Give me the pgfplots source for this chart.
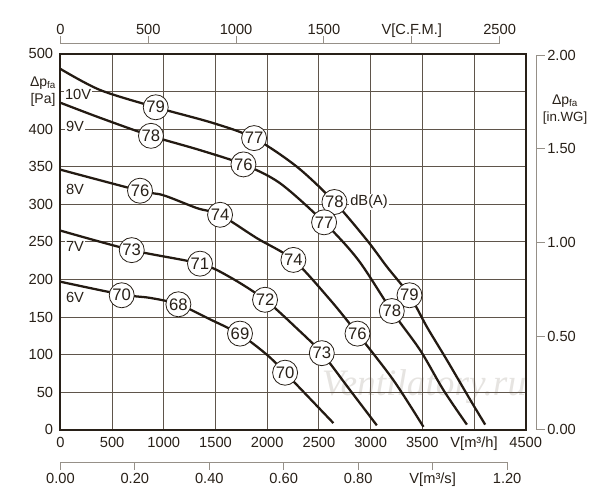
\documentclass[border=0pt]{standalone}
\usepackage{pgfplots}
\pgfplotsset{compat=1.18}
\usepackage{fontspec}
\setmainfont{Liberation Sans}
\newfontfamily\wmfont{Liberation Serif}
\definecolor{ink}{RGB}{40,32,24}
\definecolor{gridc}{RGB}{95,85,75}
\definecolor{sec}{RGB}{150,144,136}
\definecolor{curve}{RGB}{35,26,18}
\definecolor{wm}{RGB}{230,228,225}
\begin{document}
\begin{tikzpicture}[font=\fontsize{11}{13}\selectfont, text=ink]
\useasboundingbox (-45.3pt,-52.6pt) rectangle (404.7pt,322.4pt);
\node[font=\wmfont\itshape\fontsize{28}{30}\selectfont, text=wm] at (272.7pt,32.5pt) {Ventilatory.ru};
\begin{axis}[
  at={(0,0)}, anchor=south west, scale only axis,
  width=349pt, height=282pt,
  xmin=0, xmax=4500, ymin=0, ymax=500,
  xtick={0,500,...,4500}, ytick={0,50,...,500},
  xticklabels={0,500,1000,1500,2000,2500,3000,3500,{V[m³/h]},4500},
  yticklabels={0,50,100,150,200,250,300,350,400,{},500},
  major tick length=0pt,
  grid=major,
  major grid style={draw=gridc, line width=0.75pt},
  axis line style={draw=ink, line width=1.6pt},
  xticklabel style={anchor=base, inner sep=0pt, yshift=-13.05pt, text=ink, font=\fontsize{11}{13}\selectfont},
  yticklabel style={anchor=east, inner sep=0pt, xshift=-5.3pt, text=ink, font=\fontsize{11}{13}\selectfont},
  clip=false,
  /pgf/number format/assume math mode=true,
]
% 10V
\addplot[curve, line width=1.7pt, smooth, tension=0.5] coordinates {
(0,480) (383,452) (922,429) (1477,408) (1873,388) (2286,350) (2650,303) (2966,252) (3157,217) (3376,179) (3544,137) (3737,93) (3963,40) (4108,7)};
% 9V
\addplot[curve, line width=1.7pt, smooth, tension=0.5] coordinates {
(0,435) (383,415) (876,391) (1350,372) (1770,353) (2124,328) (2550,276) (2880,226) (3205,158) (3479,106) (3704,53) (3931,7)};
% 8V
\addplot[curve, line width=1.7pt, smooth, tension=0.5] coordinates {
(0,346) (770,318) (996,312) (1318,295) (1544,286) (1899,255) (2253,226) (2608,173) (2873,128) (3221,66) (3511,4)};
% 7V
\addplot[curve, line width=1.7pt, smooth, tension=0.5] coordinates {
(0,265) (690,239) (1350,221) (1641,203) (1979,173) (2286,135) (2528,102) (2800,53) (3060,6)};
% 6V
\addplot[curve, line width=1.7pt, smooth, tension=0.5] coordinates {
(0,197) (593,180) (867,175.5) (1141,167) (1447,147) (1737,127) (1996,100) (2173,76) (2640,9)};
% sound levels
\addplot[only marks, mark=*, mark size=0pt, point meta=explicit symbolic, nodes near coords,
  every node near coord/.style={anchor=center, circle, draw=ink, line width=0.6pt, fill=white, minimum size=18.75pt, inner sep=0pt, text=ink, font=\fontsize{12.5}{13}\selectfont}]
coordinates {
(922,429)[79] (1873,388)[77] (2650,303)[78] (3376,179)[79]
(876,391)[78] (1770,353)[76] (2550,276)[77] (3205,158)[78]
(770,318)[76] (1544,286)[74] (2253,226)[74] (2873,128)[76]
(690,239)[73] (1350,221)[71] (1979,173)[72] (2528,102)[73]
(593,179)[70] (1141,167)[68] (1737,128)[69] (2173,76)[70]};
% voltage labels
\addplot[only marks, mark=*, mark size=0pt, point meta=explicit symbolic, nodes near coords,
  every node near coord/.style={anchor=center, fill=white, inner sep=1pt, text=ink, font=\fontsize{11}{12}\selectfont}]
coordinates {(171,446)[10V] (141,404)[9V] (141,320)[8V] (141,244)[7V] (141,176)[6V] (2985,303)[dB(A)]};
\end{axis}
% secondary scales
\begin{scope}[draw=sec, line width=0.75pt]
\draw (0,290pt) -- (329.42pt,290pt);
\foreach \x in {0,65.88,131.77,197.65,263.53,329.42} \draw (\x pt,290pt) -- (\x pt,295.4pt);
\draw (357.1pt,0) -- (357.1pt,280.97pt);
\foreach \y in {0,70.24,140.49,210.73,280.97} \draw (357.1pt,\y pt) -- (363.8pt,\y pt);
\draw (0,-24.3pt) -- (335.04pt,-24.3pt);
\foreach \x in {0,55.84,111.68,167.52,223.36,279.2,335.04} \draw (\x pt,-24.3pt) -- (\x pt,-30pt);
\end{scope}
\foreach \x/\t in {0/0,65.88/500,131.77/1000,197.65/1500,263.53/{V[C.F.M.]},329.42/2500}
  \node[anchor=base, inner sep=0pt] at (\x pt,296.7pt) {\t};
\foreach \y/\t in {0/0.00,70.24/0.50,140.49/1.00,210.73/1.50,280.97/2.00}
  \node[anchor=west, inner sep=0pt] at (365pt,\y pt) {\t};
\foreach \x/\t in {0/0.00,55.84/0.20,111.68/0.40,167.52/0.60,223.36/0.80,279.2/{V[m³/s]},335.04/1.20}
  \node[anchor=base, inner sep=0pt] at (\x pt,-40.05pt) {\t};
\node[font=\fontsize{10.5}{12}\selectfont] at (-13.05pt,260pt) {Δp\textsubscript{fa}};
\node[font=\fontsize{10.5}{12}\selectfont] at (-13.05pt,247.4pt) {[Pa]};
\node[font=\fontsize{10.5}{12}\selectfont] at (378.5pt,246.7pt) {Δp\textsubscript{fa}};
\node[font=\fontsize{10}{12}\selectfont] at (378.5pt,233.9pt) {[in.WG]};
\end{tikzpicture}
\end{document}
